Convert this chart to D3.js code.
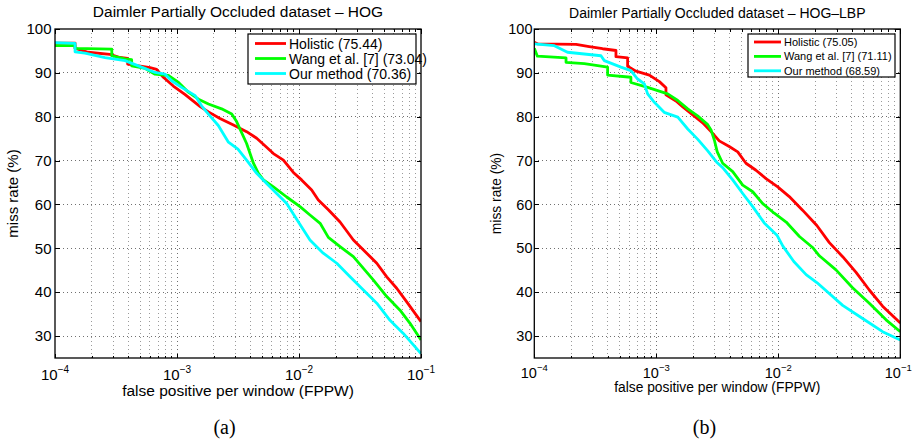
<!DOCTYPE html>
<html lang="en">
<head>
<meta charset="UTF-8">
<title>Daimler Partially Occluded dataset - miss rate vs FPPW</title>
<style>
  body { margin: 0; background: #fff; }
  svg { display: block; font-family: "Liberation Sans", Arial, Helvetica, sans-serif; }
  .grid line { stroke-dasharray: 1,3; stroke-width: 1; shape-rendering: crispEdges; }
  .grid .minor { stroke: #9a9a9a; }
  .grid .major { stroke: #707070; }
  .ax .tick line { stroke: #000; shape-rendering: crispEdges; }
  .ax .domain { display: none; }
</style>
</head>
<body>
<svg id="chart" width="912" height="446"></svg>
<script src="https://d3js.org/d3.v7.min.js"></script>
<script>
// ---- data ----
const seriesNames = ["Holistic", "Wang et al. [7]", "Our method"];
const seriesColors = ["#ff0000", "#00ff00", "#00ffff"];
const hogScores = ["75.44", "73.04", "70.36"];
const hogLbpScores = ["75.05", "71.11", "68.59"];
const panelTitles = ["Daimler Partially Occluded dataset \u2013 HOG", "Daimler Partially Occluded dataset \u2013 HOG\u2013LBP"];
const panelTags = ["(a)", "(b)"];
const xMajorTicks = [1e-4, 1e-3, 1e-2, 1e-1];
const yTicks = [30, 40, 50, 60, 70, 80, 90, 100];
const xLabel = "false positive per window (FPPW)";
const yLabel = "miss rate (%)";

// (a) HOG
const hogHolisticFppw = [1e-4, 1.46e-4, 1.46e-4, 1.87e-4, 2.82e-4, 3.41e-4, 3.94e-4, 3.94e-4, 6.01e-4, 6.81e-4, 7.73e-4, 9.33e-4, 1.16e-3, 1.55e-3, 1.81e-3, 2.25e-3, 2.90e-3, 3.72e-3, 4.50e-3, 5.26e-3, 6.17e-3, 7.45e-3, 8.99e-3, 1.05e-2, 1.27e-2, 1.44e-2, 1.74e-2, 2.17e-2, 2.79e-2, 3.59e-2, 4.34e-2, 5.24e-2, 6.32e-2, 7.64e-2, 1e-1];
const hogHolisticMiss = [96.8, 96.8, 95.6, 94.7, 94.2, 93.5, 93.3, 92.0, 91.2, 90.8, 89.0, 87.0, 85.1, 82.3, 81.1, 79.6, 78.1, 76.6, 75.1, 73.4, 71.6, 70.1, 67.3, 65.6, 63.3, 61.0, 58.8, 56.0, 51.9, 48.9, 46.6, 43.5, 40.9, 37.8, 33.3];
const hogWangFppw = [1e-4, 1.46e-4, 1.46e-4, 2.92e-4, 2.92e-4, 3.75e-4, 4.25e-4, 4.25e-4, 5.50e-4, 6.61e-4, 8.49e-4, 1.03e-3, 1.24e-3, 1.50e-3, 1.81e-3, 2.32e-3, 2.81e-3, 3.08e-3, 3.72e-3, 4.23e-3, 4.65e-3, 5.11e-3, 6.17e-3, 7.93e-3, 1.02e-2, 1.23e-2, 1.49e-2, 1.74e-2, 2.17e-2, 2.79e-2, 4.06e-2, 5.24e-2, 6.73e-2, 8.13e-2, 1e-1];
const hogWangMiss = [96.2, 96.2, 95.6, 95.4, 93.9, 93.2, 93.0, 91.6, 91.0, 89.7, 89.4, 87.8, 85.6, 84.0, 82.9, 81.8, 80.6, 78.9, 73.9, 69.4, 67.1, 65.6, 64.0, 61.7, 59.5, 57.6, 55.7, 52.5, 50.4, 48.1, 42.8, 39.0, 35.9, 32.9, 29.1];
const hogOursFppw = [1e-4, 1.46e-4, 1.46e-4, 1.76e-4, 2.57e-4, 3.75e-4, 4.82e-4, 6.61e-4, 7.98e-4, 9.04e-4, 1.09e-3, 1.41e-3, 1.59e-3, 1.81e-3, 2.18e-3, 2.64e-3, 3.16e-3, 3.72e-3, 4.50e-3, 5.43e-3, 6.56e-3, 7.93e-3, 9.89e-3, 1.23e-2, 1.58e-2, 2.04e-2, 2.62e-2, 3.37e-2, 4.34e-2, 5.57e-2, 7.16e-2, 1e-1];
const hogOursMiss = [96.9, 96.7, 94.8, 94.5, 93.5, 92.8, 91.6, 90.1, 89.7, 88.2, 86.7, 84.8, 82.5, 80.6, 78.0, 74.2, 72.6, 70.1, 67.1, 64.8, 62.5, 60.2, 56.0, 51.9, 48.9, 46.6, 43.5, 40.5, 37.5, 33.6, 30.6, 26.0];

// (b) HOG-LBP
const lbpHolisticFppw = [1e-4, 1.07e-4, 2.20e-4, 2.82e-4, 3.63e-4, 4.67e-4, 4.67e-4, 5.82e-4, 5.82e-4, 6.81e-4, 8.77e-4, 1.06e-3, 1.20e-3, 1.20e-3, 1.45e-3, 1.64e-3, 1.99e-3, 2.40e-3, 2.90e-3, 3.28e-3, 3.96e-3, 4.65e-3, 5.43e-3, 6.56e-3, 7.93e-3, 9.89e-3, 1.23e-2, 1.58e-2, 2.07e-2, 2.62e-2, 3.37e-2, 4.34e-2, 5.57e-2, 7.16e-2, 1e-1];
const lbpHolisticMiss = [97.0, 96.6, 96.5, 96.0, 95.5, 95.1, 93.7, 93.4, 91.5, 90.4, 89.5, 88.0, 86.6, 85.0, 83.6, 82.3, 80.4, 78.6, 76.2, 74.5, 73.2, 72.0, 69.4, 67.8, 65.9, 64.0, 61.8, 58.7, 55.2, 51.3, 48.1, 44.5, 40.5, 36.8, 33.0];
const lbpWangFppw = [1e-4, 1.06e-4, 1.82e-4, 1.82e-4, 2.57e-4, 3.63e-4, 3.99e-4, 3.99e-4, 6.19e-4, 6.19e-4, 8.49e-4, 1.24e-3, 1.50e-3, 1.81e-3, 2.18e-3, 2.64e-3, 2.81e-3, 2.99e-3, 3.16e-3, 3.50e-3, 4.23e-3, 5.11e-3, 6.17e-3, 7.45e-3, 9.27e-3, 1.16e-2, 1.49e-2, 1.91e-2, 2.17e-2, 2.97e-2, 4.06e-2, 5.57e-2, 7.64e-2, 1e-1];
const lbpWangMiss = [95.6, 93.8, 93.4, 92.4, 92.1, 91.5, 91.3, 89.5, 89.0, 87.8, 86.7, 85.2, 83.7, 81.8, 80.2, 78.2, 77.0, 74.7, 72.0, 69.4, 67.5, 64.4, 62.9, 60.2, 58.0, 56.0, 52.7, 50.2, 48.3, 45.1, 41.0, 37.5, 33.7, 31.0];
const lbpOursFppw = [1e-4, 1.46e-4, 1.87e-4, 3.52e-4, 3.75e-4, 5.13e-4, 6.19e-4, 7.03e-4, 7.98e-4, 8.49e-4, 9.64e-4, 1.16e-3, 1.50e-3, 1.81e-3, 2.18e-3, 2.64e-3, 3.16e-3, 3.50e-3, 4.23e-3, 5.11e-3, 6.17e-3, 7.67e-3, 9.75e-3, 1.09e-2, 1.34e-2, 1.69e-2, 2.07e-2, 3.37e-2, 4.91e-2, 7.16e-2, 1e-1];
const lbpOursMiss = [96.6, 96.2, 94.7, 93.9, 92.8, 91.3, 90.5, 88.6, 87.5, 85.2, 83.3, 81.0, 79.9, 77.2, 74.9, 72.2, 69.5, 68.4, 65.6, 62.5, 59.5, 55.8, 53.0, 50.5, 47.0, 44.0, 42.2, 37.0, 34.0, 31.0, 29.1];

// ---- layout ----
const panels = [
  {
    box: {left: 55, right: 421, top: 29, bottom: 358},
    title: panelTitles[0], scores: hogScores, tag: panelTags[0],
    series: [[hogHolisticFppw, hogHolisticMiss], [hogWangFppw, hogWangMiss], [hogOursFppw, hogOursMiss]],
    titleY: 16.5, titleSize: 15.5,
    tickFont: 15, supFont: 10, xTickY: 380, yTickX: 51.5, lastTickShift: 0,
    xLabelY: 396, xLabelSize: 15.5, yLabelX: 18, yLabelSize: 15,
    legend: {x: 248, y: 34, w: 168, h: 50, l0: 255, l1: 286, tx: 289, row0: 43.5, step: 15, font: 14},
    tagX: 224.5
  },
  {
    box: {left: 534.3, right: 900.3, top: 29, bottom: 358},
    title: panelTitles[1], scores: hogLbpScores, tag: panelTags[1],
    series: [[lbpHolisticFppw, lbpHolisticMiss], [lbpWangFppw, lbpWangMiss], [lbpOursFppw, lbpOursMiss]],
    titleY: 18, titleSize: 14,
    tickFont: 14.5, supFont: 9.5, xTickY: 378, yTickX: 532.5, lastTickShift: -2,
    xLabelY: 391.5, xLabelSize: 13.8, yLabelX: 501, yLabelSize: 13.8,
    legend: {x: 748, y: 34, w: 147, h: 43, l0: 754, l1: 781, tx: 784, row0: 42, step: 14.4, font: 11},
    tagX: 704.5
  }
];

const svg = d3.select("#chart");
svg.append("rect").attr("width", 912).attr("height", 446).attr("fill", "#fff");

panels.forEach((p, pi) => {
  const b = p.box;
  const x = d3.scaleLog().domain([1e-4, 1e-1]).range([b.left, b.right]);
  const y = d3.scaleLinear().domain([25, 100]).range([b.bottom, b.top]);
  const allX = x.ticks();
  const g = svg.append("g");

  // grid
  const grid = g.append("g").attr("class", "grid");
  grid.selectAll(".gx").data(allX.filter(d => d > 1e-4 && d < 1e-1)).join("line")
    .attr("class", d => xMajorTicks.includes(d) ? "major" : "minor")
    .attr("x1", d => x(d)).attr("x2", d => x(d))
    .attr("y1", b.top).attr("y2", b.bottom);
  grid.selectAll(".gy").data(yTicks.filter(d => d < 100)).join("line")
    .attr("class", "major")
    .attr("x1", b.left).attr("x2", b.right)
    .attr("y1", d => y(d)).attr("y2", d => y(d));

  // curves
  const clipId = "clip" + pi;
  g.append("clipPath").attr("id", clipId).append("rect")
    .attr("x", b.left).attr("y", b.top).attr("width", b.right - b.left).attr("height", b.bottom - b.top);
  const line = d3.line().x(d => x(d[0])).y(d => y(d[1]));
  p.series.forEach((s, si) => {
    const pts = d3.zip(s[0], s[1]);
    g.append("path").datum(pts)
      .attr("clip-path", `url(#${clipId})`)
      .attr("fill", "none")
      .attr("stroke", seriesColors[si])
      .attr("stroke-width", 2.8)
      .attr("stroke-linejoin", "round")
      .attr("d", line);
  });

  // inward ticks on all four sides
  const minor = allX.filter(d => !xMajorTicks.includes(d));
  g.append("g").attr("class", "ax").attr("transform", `translate(0,${b.bottom})`)
    .call(d3.axisBottom(x).tickValues(minor).tickSize(-2.5).tickFormat(""));
  g.append("g").attr("class", "ax").attr("transform", `translate(0,${b.bottom})`)
    .call(d3.axisBottom(x).tickValues(xMajorTicks).tickSize(-4.5).tickFormat(""));
  g.append("g").attr("class", "ax").attr("transform", `translate(0,${b.top})`)
    .call(d3.axisTop(x).tickValues(minor).tickSize(-2.5).tickFormat(""));
  g.append("g").attr("class", "ax").attr("transform", `translate(0,${b.top})`)
    .call(d3.axisTop(x).tickValues(xMajorTicks).tickSize(-4.5).tickFormat(""));
  g.append("g").attr("class", "ax").attr("transform", `translate(${b.left},0)`)
    .call(d3.axisLeft(y).tickValues(yTicks).tickSize(-4.5).tickFormat(""));
  g.append("g").attr("class", "ax").attr("transform", `translate(${b.right},0)`)
    .call(d3.axisRight(y).tickValues(yTicks).tickSize(-4.5).tickFormat(""));

  // axes box
  g.append("rect")
    .attr("x", b.left).attr("y", b.top).attr("width", b.right - b.left).attr("height", b.bottom - b.top)
    .attr("fill", "none").attr("stroke", "#000").attr("stroke-width", 1.3);

  // x tick labels 10^k
  const xl = g.selectAll(".xl").data(xMajorTicks).join("text")
    .attr("x", (d, i) => x(d) + (i === xMajorTicks.length - 1 ? p.lastTickShift : 0))
    .attr("y", p.xTickY)
    .attr("text-anchor", "middle").attr("font-size", p.tickFont).attr("fill", "#000");
  xl.append("tspan").text("10");
  xl.append("tspan").attr("dy", -7.5).attr("font-size", p.supFont)
    .text(d => "\u2212" + Math.abs(Math.round(Math.log10(d))));

  // y tick labels
  g.selectAll(".yl").data(yTicks).join("text")
    .attr("x", p.yTickX).attr("y", d => y(d) + p.tickFont * 0.35)
    .attr("text-anchor", "end").attr("font-size", p.tickFont).attr("fill", "#000")
    .text(d => d);

  // titles and axis labels
  g.append("text").attr("x", (b.left + b.right) / 2).attr("y", p.titleY)
    .attr("text-anchor", "middle").attr("font-size", p.titleSize).text(p.title);
  g.append("text").attr("x", (b.left + b.right) / 2).attr("y", p.xLabelY)
    .attr("text-anchor", "middle").attr("font-size", p.xLabelSize).text(xLabel);
  g.append("text").attr("transform", `translate(${p.yLabelX},${(b.top + b.bottom) / 2}) rotate(-90)`)
    .attr("text-anchor", "middle").attr("font-size", p.yLabelSize).text(yLabel);

  // legend
  const L = p.legend;
  g.append("rect").attr("x", L.x).attr("y", L.y).attr("width", L.w).attr("height", L.h)
    .attr("fill", "#fff").attr("stroke", "#000").attr("stroke-width", 1.2);
  seriesNames.forEach((name, si) => {
    const ry = L.row0 + si * L.step;
    g.append("line").attr("x1", L.l0).attr("x2", L.l1).attr("y1", ry).attr("y2", ry)
      .attr("stroke", seriesColors[si]).attr("stroke-width", 2.8);
    g.append("text").attr("x", L.tx).attr("y", ry + L.font * 0.36)
      .attr("font-size", L.font).text(`${name} (${p.scores[si]})`);
  });

  // panel tag
  g.append("text").attr("x", p.tagX).attr("y", 434)
    .attr("text-anchor", "middle").attr("font-size", 20)
    .attr("font-family", "'Liberation Serif', 'Times New Roman', serif")
    .text(p.tag);
});
</script>
</body>
</html>
